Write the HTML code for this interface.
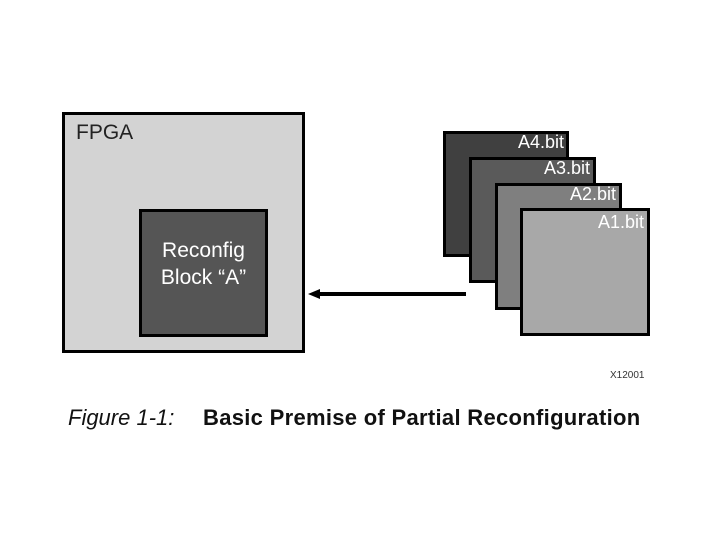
<!DOCTYPE html>
<html><head><style>
body{margin:0;width:720px;height:540px;background:#fff;position:relative;overflow:hidden;font-family:"Liberation Sans",sans-serif}
.b{position:absolute;box-sizing:border-box;border:3px solid #000}
.t{position:absolute;color:#fff;font-size:18px;text-align:right}
</style></head><body>
<div class="b" style="left:62px;top:112px;width:243px;height:241px;background:#d3d3d3"></div>
<div style="position:absolute;left:76px;top:121px;font-size:21px;color:#222">FPGA</div>
<div class="b" style="left:139px;top:209px;width:129px;height:128px;background:#555"></div>
<div style="position:absolute;left:139px;top:237px;width:129px;text-align:center;color:#fff;font-size:21px;line-height:27px">Reconfig<br>Block “A”</div>
<div style="position:absolute;left:318px;top:292px;width:148px;height:4px;background:#000"></div>
<div style="position:absolute;left:308px;top:289px;width:0;height:0;border-top:5px solid transparent;border-bottom:5px solid transparent;border-right:12px solid #000"></div>
<div class="b" style="left:443px;top:131px;width:126px;height:126px;background:#404040"></div>
<div class="t" style="left:443px;top:132px;width:121px">A4.bit</div>
<div class="b" style="left:469px;top:157px;width:127px;height:126px;background:#5a5a5a"></div>
<div class="t" style="left:469px;top:158px;width:121px">A3.bit</div>
<div class="b" style="left:495px;top:183px;width:127px;height:127px;background:#7f7f7f"></div>
<div class="t" style="left:495px;top:184px;width:121px">A2.bit</div>
<div class="b" style="left:520px;top:208px;width:130px;height:128px;background:#a8a8a8"></div>
<div class="t" style="left:520px;top:212px;width:124px">A1.bit</div>
<div style="position:absolute;left:610px;top:370px;font-size:10px;color:#333">X12001</div>
<div style="position:absolute;left:68px;top:405px;font-size:22px;font-style:italic;color:#111">Figure 1-1:</div>
<div style="position:absolute;left:203px;top:405px;font-size:22px;letter-spacing:0.3px;font-weight:bold;color:#111">Basic Premise of Partial Reconfiguration</div>
</body></html>
